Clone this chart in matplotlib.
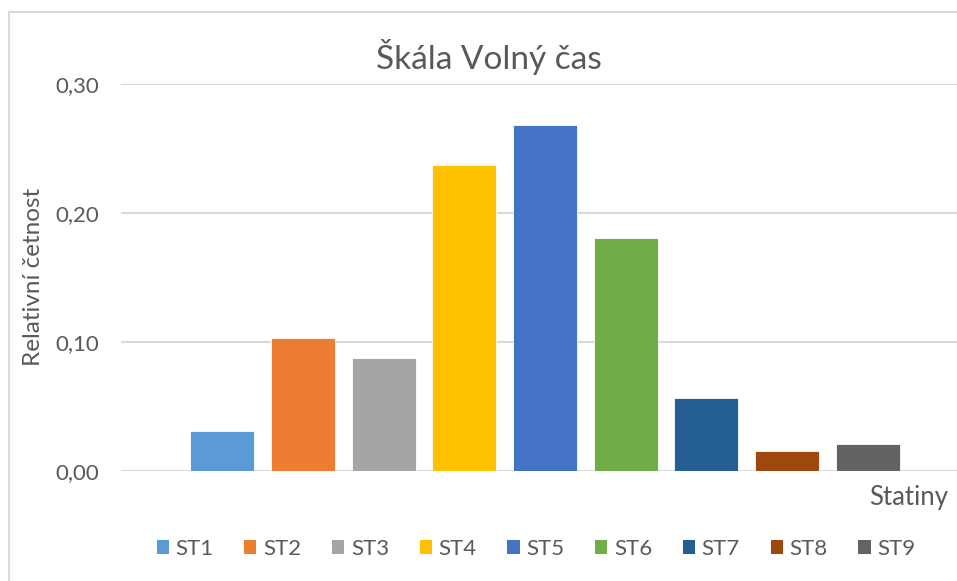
import matplotlib
matplotlib.use("Agg")
import matplotlib.pyplot as plt
from matplotlib.patches import Patch
from matplotlib.lines import Line2D
from matplotlib.ticker import FuncFormatter

categories = ["ST1", "ST2", "ST3", "ST4", "ST5", "ST6", "ST7", "ST8", "ST9"]
values = [0.0308, 0.1033, 0.0877, 0.2371, 0.2684, 0.1807, 0.0567, 0.0155, 0.0205]
colors = ["#5B9BD5", "#ED7D31", "#A5A5A5", "#FFC000", "#4472C4",
          "#70AD47", "#255E91", "#9E480E", "#636363"]
yticks = [0.0, 0.1, 0.2, 0.3]

plt.rcParams['font.family'] = ['Lato', 'DejaVu Sans']
txt = "#595959"

W, H = 957, 581
fig = plt.figure(figsize=(W/100, H/100), dpi=100)

left = 121 / W
bottom = (H - 470.7) / H
height = (470.7 - 84) / H
width = 848 / W
ax = fig.add_axes([left, bottom, width, height])

x = list(range(len(categories)))
ax.bar(x, values, width=0.793, color=colors, edgecolor="white", linewidth=0.6, zorder=3)
ax.set_xlim(-1.255, 9.255)
ax.set_ylim(0, 0.30)
ax.set_yticks(yticks)
ax.yaxis.set_major_formatter(FuncFormatter(lambda v, p: f"{v:.2f}".replace(".", ",")))
ax.set_xticks([])
ax.tick_params(axis='y', length=0, pad=16, labelsize=16, labelcolor=txt)
ax.grid(axis='y', color="#D9D9D9", linewidth=1.5, zorder=0)
for s in ax.spines.values():
    s.set_visible(False)
ax.set_facecolor("none")

fig.text(489 / W, 1 - 57 / H, "Škála Volný čas", ha="center", va="center",
         fontsize=24, color=txt)
fig.text(34 / W, 1 - 277 / H, "Relativní četnost", rotation=90, ha="center",
         va="center", fontsize=17.5, color=txt)
fig.text(948 / W, 1 - 498 / H, "Statiny", ha="right", va="center",
         fontsize=18.5, color=txt)

handles = [Patch(facecolor=c, edgecolor="none") for c in colors]
fig.legend(handles, categories, loc="center", bbox_to_anchor=(536 / W, 1 - 549 / H),
           ncol=9, frameon=False, fontsize=16, labelcolor=txt,
           handlelength=0.55, handleheight=0.55, handletextpad=0.3, columnspacing=1.38)

# chart border
fig.add_artist(Line2D([9 / W, 9 / W], [0, 1 - 12 / H], color="#D9D9D9", lw=1.5,
                      transform=fig.transFigure))
fig.add_artist(Line2D([9 / W, 1.0], [1 - 12 / H, 1 - 12 / H], color="#D9D9D9", lw=1.5,
                      transform=fig.transFigure))

fig.savefig("out.png", dpi=100)
